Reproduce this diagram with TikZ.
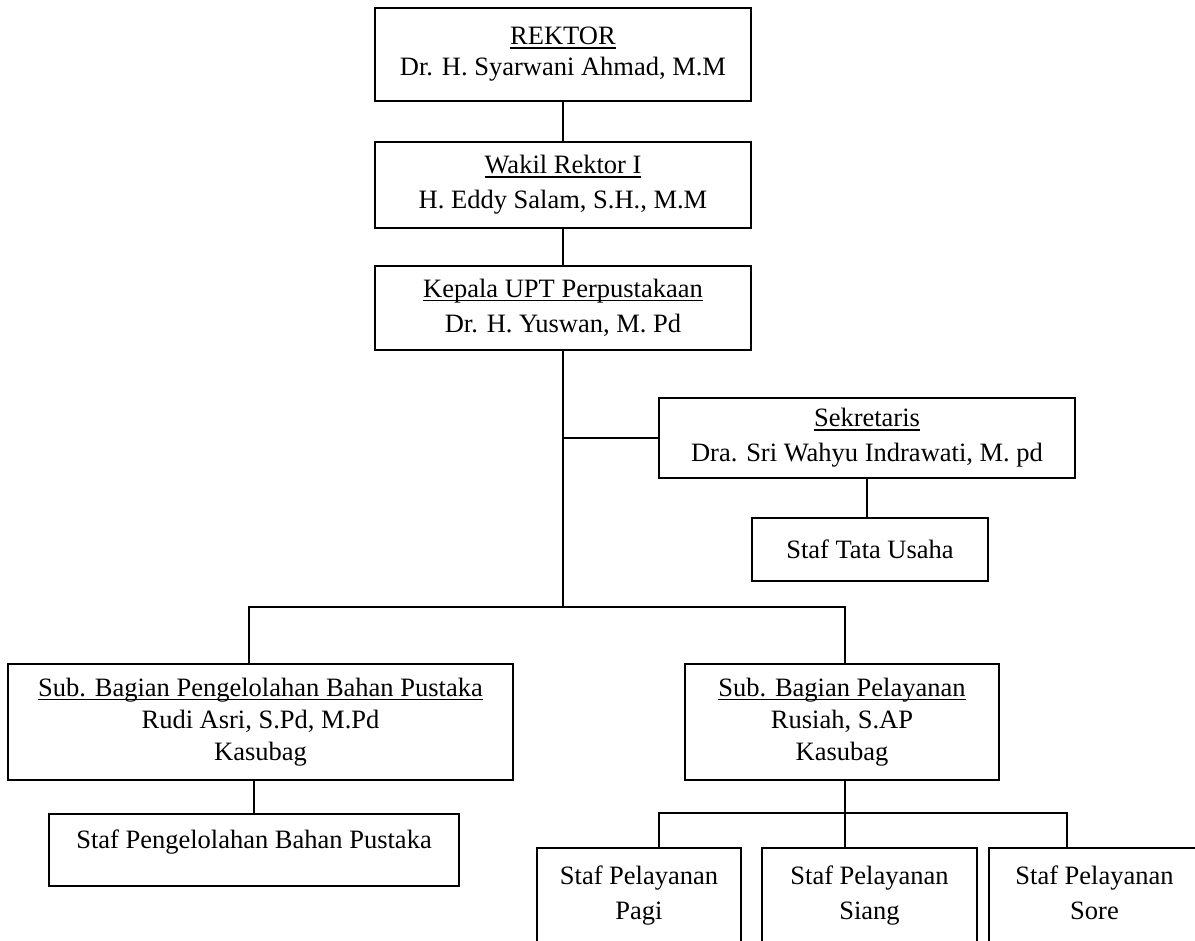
\documentclass[tikz,border=0pt]{standalone}
\usepackage{fontspec}
\setmainfont{Liberation Serif}
\newcommand\myul[1]{\leavevmode\setbox0=\hbox{#1}\rlap{\vrule height -2.2pt depth 3.8pt width \wd0}\box0}
\begin{document}
\begin{tikzpicture}[x=1pt,y=-1pt,
  box/.style={draw, line width=1.8pt, align=center, inner sep=0pt},
  fA/.style={font=\fontsize{26.5}{31}\selectfont},
  fB/.style={font=\fontsize{26.5}{35}\selectfont},
  fC/.style={font=\fontsize{26.5}{32}\selectfont},
  conn/.style={line width=1.8pt, line cap=rect}]
\useasboundingbox (0,0) rectangle (1195,941);
\clip (0,0) rectangle (1195,941);
% boxes
\node[box, fA, minimum width=376pt, minimum height=93pt] (rek) at (563,54.5) {\myul{REKTOR}\\Dr. H. Syarwani Ahmad, M.M};
\node[box, fB, minimum width=376pt, minimum height=86pt] (wak) at (563,185) {\myul{Wakil Rektor I}\\H. Eddy Salam, S.H., M.M};
\node[box, fB, minimum width=376pt, minimum height=84pt] (kep) at (563,308) {\myul{Kepala UPT Perpustakaan}\\Dr. H. Yuswan, M. Pd};
\node[box, fB, minimum width=416pt, minimum height=80pt] (sek) at (867,438) {\myul{Sekretaris}\\Dra. Sri Wahyu Indrawati, M. pd};
\node[box, fB, minimum width=236pt, minimum height=63pt] (tu) at (870,549.5) {Staf Tata Usaha};
\node[box, fC, minimum width=505pt, minimum height=116pt] (subA) at (260.5,722) {\myul{Sub. Bagian Pengelolahan Bahan Pustaka}\\Rudi Asri, S.Pd, M.Pd\\Kasubag};
\node[box, fC, minimum width=314pt, minimum height=116pt] (subB) at (842,722) {\myul{Sub. Bagian Pelayanan}\\Rusiah, S.AP\\Kasubag};
\node[box, fB, minimum width=410pt, minimum height=72pt, text height=18pt, text depth=22pt] (stafA) at (254,850) {Staf Pengelolahan Bahan Pustaka};
\node[box, fB, minimum width=204pt, minimum height=96pt] (pagi) at (639,896) {Staf Pelayanan\\Pagi};
\node[box, fB, minimum width=215pt, minimum height=96pt] (siang) at (869.5,896) {Staf Pelayanan\\Siang};
\node[box, fB, minimum width=211pt, minimum height=96pt] (sore) at (1094.5,896) {Staf Pelayanan\\Sore\vphantom{g}};
% junctions
\coordinate (j1) at (563,438);
\coordinate (j2) at (563,607);
\coordinate (jl) at (249,607);
\coordinate (jr) at (845,607);
\coordinate (jb) at (845,813);
\coordinate (jbl) at (659,813);
\coordinate (jbr) at (1067,813);
% connectors
\draw[conn] (rek.south) -- (wak.north);
\draw[conn] (wak.south) -- (kep.north);
\draw[conn] (kep.south) -- (j2);
\draw[conn] (j1) -- (sek.west);
\draw[conn] (sek.south) -- (sek.south |- tu.north);
\draw[conn] (jl) -- (jr);
\draw[conn] (jl) -- (jl |- subA.north);
\draw[conn] (jr) -- (jr |- subB.north);
\draw[conn] (stafA.north |- subA.south) -- (stafA.north);
\draw[conn] (jb |- subB.south) -- (jb |- siang.north);
\draw[conn] (jbl) -- (jbr);
\draw[conn] (jbl) -- (jbl |- pagi.north);
\draw[conn] (jbr) -- (jbr |- sore.north);
\end{tikzpicture}
\end{document}
